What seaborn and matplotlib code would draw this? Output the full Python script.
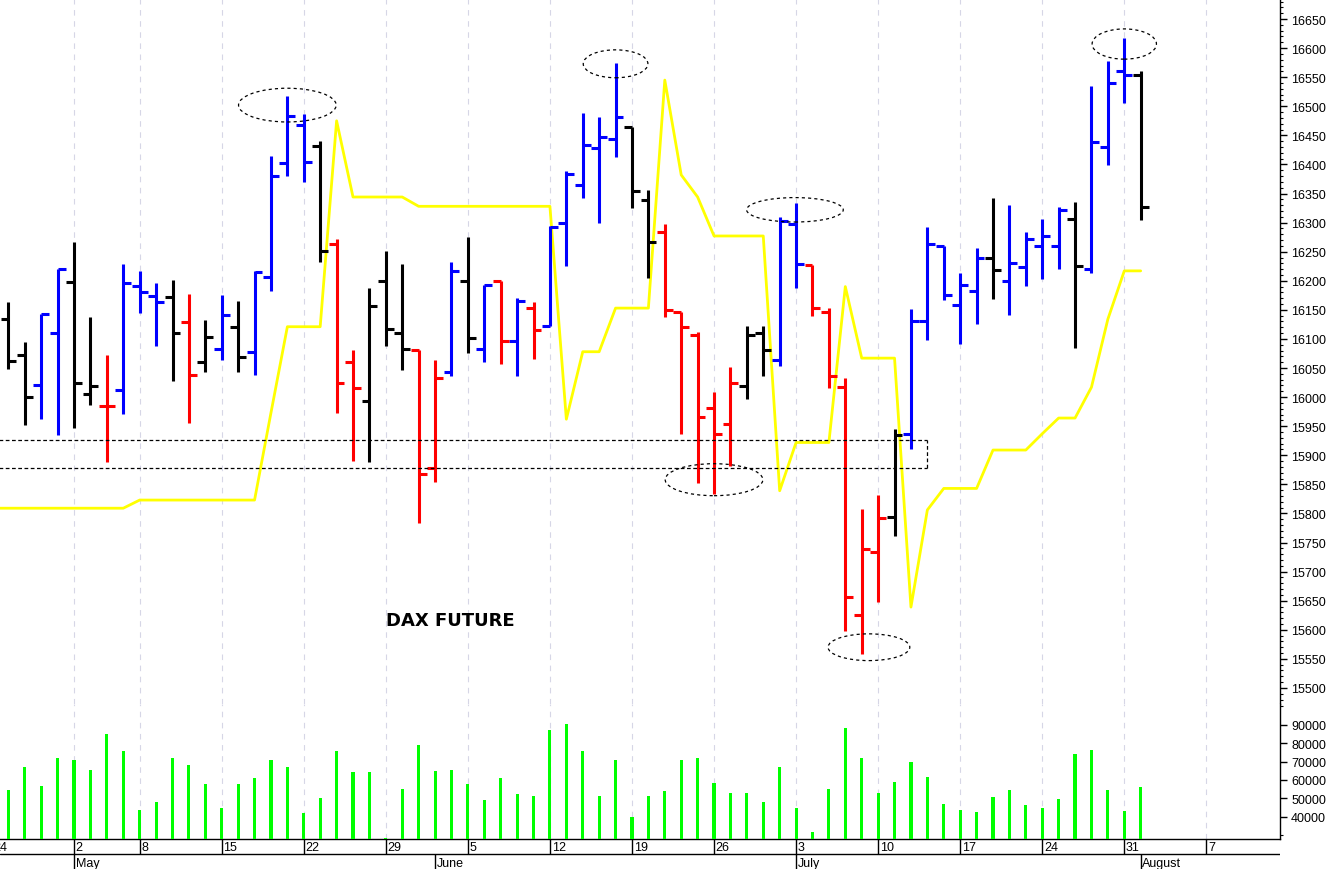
import numpy as np
import pandas as pd
import matplotlib
matplotlib.use("Agg")
import matplotlib.pyplot as plt
import seaborn as sns
from matplotlib.patches import Ellipse
from matplotlib.ticker import MultipleLocator, FixedLocator

# ---------------- data ----------------
# trading-day calendar (Eurex closed on 1 May)
axis_days = [d for d in pd.bdate_range("2023-04-24", "2023-08-18") if d != pd.Timestamp("2023-05-01")]
pos = {d.strftime("%Y-%m-%d"): i - 1 for i, d in enumerate(axis_days)}
trade_dates = [d.strftime("%Y-%m-%d") for d in axis_days
               if pd.Timestamp("2023-04-25") <= d <= pd.Timestamp("2023-08-01")]

opens = [16134, 16072, 16021, 16110, 16198, 16006, 15984, 16012, 16191, 16174,
         16172, 16129, 16060, 16083, 16120, 16077, 16206, 16402, 16467, 16432,
         16263, 16060, 15993, 16199, 16110, 16081, 15878, 16043, 16199, 16083,
         16199, 16096, 16153, 16123, 16299, 16365, 16429, 16444, 16464, 16339,
         16283, 16147, 16106, 15982, 15954, 16019, 16111, 16064, 16298, 16227,
         16147, 16017, 15625, 15733, 15794, 15937, 16130, 16260, 16158, 16182,
         16239, 16199, 16223, 16260, 16259, 16306, 16221, 16430, 16560, 16553]
highs = [16164, 16095, 16143, 16221, 16267, 16137, 16072, 16228, 16217, 16197,
         16202, 16178, 16132, 16176, 16166, 16216, 16415, 16517, 16487, 16440,
         16271, 16081, 16187, 16252, 16229, 16081, 16063, 16233, 16276, 16193,
         16200, 16170, 16163, 16295, 16389, 16488, 16481, 16574, 16465, 16356,
         16297, 16147, 16112, 16009, 16052, 16123, 16123, 16309, 16334, 16227,
         16153, 16032, 15808, 15832, 15945, 16151, 16293, 16260, 16213, 16256,
         16343, 16331, 16283, 16306, 16326, 16336, 16534, 16577, 16617, 16561]
lows = [16048, 15952, 15962, 15935, 15947, 15986, 15888, 15971, 16145, 16088,
        16027, 15955, 16044, 16063, 16044, 16038, 16182, 16380, 16369, 16233,
        15972, 15891, 15888, 16087, 16047, 15783, 15854, 16037, 16075, 16060,
        16057, 16037, 16066, 16123, 16226, 16342, 16300, 16412, 16325, 16204,
        16137, 15937, 15853, 15833, 15882, 15996, 16037, 16054, 16188, 16139,
        16015, 15598, 15558, 15647, 15761, 15910, 16098, 16167, 16092, 16126,
        16169, 16141, 16191, 16203, 16221, 16084, 16213, 16399, 16505, 16304]
closes = [16062, 16000, 16143, 16220, 16025, 16019, 15984, 16197, 16181, 16163,
          16110, 16038, 16103, 16141, 16069, 16215, 16380, 16483, 16404, 16251,
          16024, 16015, 16156, 16117, 16083, 15867, 16032, 16216, 16101, 16192,
          16096, 16165, 16115, 16292, 16384, 16433, 16448, 16481, 16355, 16266,
          16150, 16121, 15966, 15937, 16024, 16106, 16081, 16302, 16229, 16154,
          16036, 15657, 15739, 15793, 15935, 16130, 16263, 16176, 16193, 16240,
          16219, 16230, 16272, 16277, 16322, 16226, 16438, 16540, 16553, 16326]
bar_colors = list("kkbbkkrbbb" "krkbkbbbbk" "rrkkkrrbkb" "rbrbbbbbkk"
                  "rrrrrkkbbr" "rrrrkbbbbb" "kbbbbkbbbk")
volumes = [54700, 67000, 56500, 71700, 70700, 65200, 84900, 75500, 43500, 48200,
           71700, 68100, 57600, 44600, 57600, 60900, 70700, 67000, 41800, 50000,
           75500, 64100, 64100, 28500, 55100, 78800, 64700, 65400, 57600, 49100,
           60900, 52300, 51100, 87100, 90400, 75500, 51300, 70700, 39800, 51300,
           53800, 70700, 71700, 58200, 52700, 52700, 48200, 67000, 44600, 31900,
           55100, 88000, 71700, 52700, 58700, 69700, 61400, 47100, 43800, 42400,
           50700, 54400, 46200, 44900, 49800, 73900, 76400, 54400, 42900, 56000]
# yellow stop line, from 24 Apr to 1 Aug
stop_dates = ["2023-04-24"] + trade_dates
stop_values = [15809] * 9 + [15823] * 8 + [15973] + [16121] * 3 + [16475] + [16344] * 4 + \
              [16328] * 9 + [15962] + [16078] * 2 + [16153] * 3 + [16545, 16382, 16344] + \
              [16277] * 4 + [15839] + [15922] * 3 + [16190] + [16067] * 3 + [15639, 15806] + \
              [15843] * 3 + [15909] * 3 + [15937] + [15964] * 2 + [16017, 16134] + [16217] * 2

week_dates = ["2023-04-24", "2023-05-02", "2023-05-08", "2023-05-15", "2023-05-22", "2023-05-29",
              "2023-06-05", "2023-06-12", "2023-06-19", "2023-06-26", "2023-07-03", "2023-07-10",
              "2023-07-17", "2023-07-24", "2023-07-31", "2023-08-07"]
week_labels = ["24", "2", "8", "15", "22", "29", "5", "12", "19", "26", "3", "10", "17", "24", "31", "7"]
month_dates = ["2023-05-02", "2023-06-01", "2023-07-03", "2023-08-01"]
month_labels = ["May", "June", "July", "August"]

price_ticks = list(range(15500, 16651, 50))
volume_ticks = [40000, 50000, 60000, 70000, 80000, 90000]

# annotations: ellipse centre (date, price), support box
ellipse_dates = ["2023-05-19", "2023-06-16", "2023-07-03", "2023-06-26", "2023-07-07", "2023-07-31"]
ellipse_shift = [0.0, 0.0, -0.07, 0.0, 0.44, 0.0]
ellipse_prices = [16502, 16573, 16322, 15858, 15570, 16607]
ellipse_sizes = [(5.95, 58), (3.94, 48), (5.89, 42), (5.95, 55), (4.98, 46), (3.92, 52)]
box_top, box_bottom, box_right = 15926, 15878, 55.95

# ---------------- figure ----------------
sns.set_theme(style="white")
plt.rcParams["font.family"] = ["Liberation Sans", "DejaVu Sans"]
plt.rcParams["text.color"] = "black"

W, H = 1328, 870
fig = plt.figure(figsize=(W / 100, H / 100), dpi=100)
fig.patch.set_facecolor("white")
aw = 1280 / W
ax_p = fig.add_axes([0, (H - 705) / H, aw, 705 / H])
ax_v = fig.add_axes([0, (H - 840) / H, aw, 135 / H])
ax_d = fig.add_axes([0, 0, aw, 30 / H])

px = 16.41
xlim = (-8.4 / px, (1280 - 8.4) / px)

x = np.array([pos[d] for d in trade_dates])
cmap = {"k": "#000000", "b": "#0000ff", "r": "#ff0000"}
cols = [cmap[c] for c in bar_colors]

grid_x = [pos[d] for d in week_dates]
for ax in (ax_p, ax_v):
    ax.set_facecolor("white")
    for gx in grid_x:
        ax.axvline(gx, color="#d6d6e6", lw=0.8, ls=(0, (5, 5)), zorder=0)

# yellow stop line
sns.lineplot(x=[pos[d] for d in stop_dates], y=stop_values, ax=ax_p, color="#ffff00",
             lw=2.0, estimator=None, sort=False, legend=False, zorder=2)

# OHLC bars
lw = 2.2
ax_p.vlines(x, lows, highs, colors=cols, lw=lw, zorder=3)
ax_p.hlines(opens, x - 0.48, x, colors=cols, lw=lw, zorder=3)
ax_p.hlines(closes, x, x + 0.48, colors=cols, lw=lw, zorder=3)

# ellipses
for d, s, p, (w, h) in zip(ellipse_dates, ellipse_shift, ellipse_prices, ellipse_sizes):
    ax_p.add_patch(Ellipse((pos[d] + s, p), w, h, fill=False, ec="black", lw=0.9,
                           ls=(0, (2.5, 2.5)), zorder=4))
# support box
ax_p.hlines([box_top, box_bottom], xlim[0] - 1, box_right, colors="black", lw=0.9,
            linestyles=[(0, (3, 2))], zorder=4)
ax_p.vlines([box_right], box_bottom, box_top, colors="black", lw=0.9,
            linestyles=[(0, (3, 2))], zorder=4)

ax_p.text(pos["2023-05-29"], 15617, "DAX FUTURE", fontsize=13, fontweight="bold",
          family="DejaVu Sans", color="black", ha="left", va="center", zorder=5)

ax_p.set_xlim(*xlim)
ax_p.set_ylim(15472.4, 16684.4)

# volume
sns.barplot(x=x, y=volumes, native_scale=True, width=0.19, color="#00ff00", saturation=1,
            linewidth=0, errorbar=None, ax=ax_v, zorder=3)
ax_v.set_xlim(*xlim)
ax_v.set_ylim(27880, 101252)

# axes styling
for ax in (ax_p, ax_v):
    ax.set_xticks([])
    ax.set_xlabel("")
    ax.set_ylabel("")
    ax.yaxis.tick_right()
    for s in ("top", "left", "bottom"):
        ax.spines[s].set_visible(False)
    ax.spines["right"].set_visible(True)
    ax.spines["right"].set_color("black")
    ax.spines["right"].set_linewidth(1)
    ax.tick_params(axis="y", which="major", direction="out", length=5, width=1,
                   color="black", labelsize=9, pad=3, labelcolor="black",
                   right=True, left=False)
    ax.tick_params(axis="y", which="minor", direction="out", length=2.5, width=0.8,
                   color="black", right=True, left=False)
ax_v.spines["bottom"].set_visible(True)
ax_v.spines["bottom"].set_color("black")
ax_v.spines["bottom"].set_linewidth(1)

ax_p.yaxis.set_major_locator(FixedLocator(price_ticks))
ax_p.yaxis.set_minor_locator(MultipleLocator(10))
ax_p.set_yticklabels([str(t) for t in price_ticks])

ax_v.yaxis.set_major_locator(FixedLocator(volume_ticks))
ax_v.yaxis.set_minor_locator(FixedLocator([30000, 100000]))
ax_v.set_yticklabels([str(t) for t in volume_ticks])

# date rows
ax_d.set_xlim(*xlim)
ax_d.set_ylim(0, 2)
ax_d.axis("off")
ax_d.axhline(1, color="black", lw=1)
wk = [pos[d] for d in week_dates]
mo = [pos[d] for d in month_dates]
ax_d.vlines(wk, 1, 2, colors="black", lw=1)
ax_d.vlines(mo, 0, 1, colors="black", lw=1)
for p_, lab in zip(wk, week_labels):
    ax_d.text(p_ + 0.1, 1.48, lab, fontsize=9, color="black", ha="left", va="center", clip_on=False)
for p_, lab in zip(mo, month_labels):
    ax_d.text(p_ + 0.1, 0.42, lab, fontsize=9, color="black", ha="left", va="center", clip_on=False)

fig.savefig("out.png", dpi=100, facecolor="white")
